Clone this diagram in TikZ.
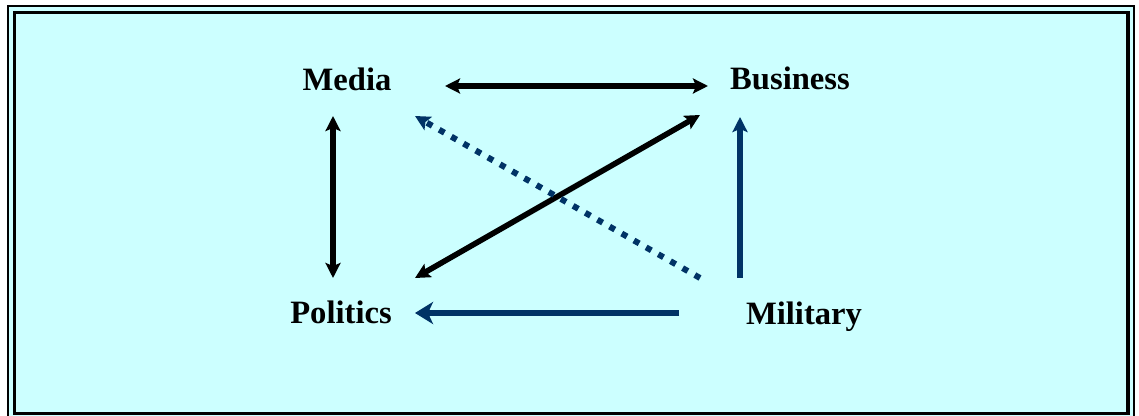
\documentclass[tikz,border=0pt]{standalone}
\usepackage{fontspec}
\setmainfont{Liberation Serif}
\usepackage{tikz}
\usetikzlibrary{arrows.meta,positioning}
\definecolor{paleCyan}{RGB}{204,255,255}
\definecolor{armyNavy}{RGB}{0,51,102}

\begin{document}
\begin{tikzpicture}[x=0.5pt,y=-0.5pt,
          sector/.style={anchor=base, inner sep=0pt,
            font=\fontsize{16.3}{19}\selectfont\bfseries},
          link/.style={line width=2.8pt, black},
          force/.style={line width=2.9pt, armyNavy},
          >={Stealth[length=7.5pt,width=7.5pt,inset=1.5pt]}
        ]
          \useasboundingbox (0,0) rectangle (1139,416);
          % frame
          \draw[line width=1pt, fill=paleCyan] (8,6) rectangle (1134,420);
          \draw[line width=1.6pt] (14.5,12.5) rectangle (1128,413.5);
          % sectors
          \node[sector] (media) at (347,91) {Media};
          \node[sector] (business) at (790,90) {Business};
          \node[sector] (politics) at (341,324) {Politics};
          \node[sector] (military) at (804,325) {Military};
          % civil links
          \draw[<->,link] ([shift={(98,-5)}]media.base) -- ([shift={(-82,-4)}]business.base);
          \draw[<->,link] ([shift={(-14,25)}]media.base) -- ([shift={(-8,-46)}]politics.base);
          \draw[<->,link] ([shift={(74,-46)}]politics.base) -- ([shift={(-90,25)}]business.base);
          % military influence
          \draw[->,force,line width=3pt,dash pattern=on 3pt off 4pt]
            ([shift={(-104,-47)}]military.base) -- ([shift={(68,25)}]media.base);
          \draw[->,force] ([shift={(-64,-47)}]military.base) -- ([shift={(-50,27)}]business.base);
          \draw[-{Stealth[length=9pt,width=11pt,inset=2.5pt]},force]
            ([shift={(-125,-12)}]military.base) -- ([shift={(74,-11)}]politics.base);
        \end{tikzpicture}
\end{document}
